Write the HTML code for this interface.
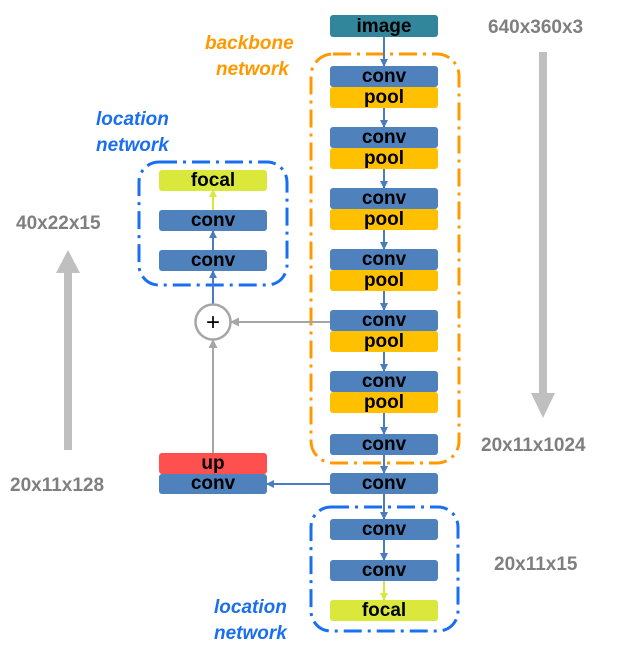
<!DOCTYPE html>
<html><head><meta charset="utf-8"><style>
html,body{margin:0;padding:0;background:#fff;}
svg{display:block;}
text{font-family:"Liberation Sans",Arial,sans-serif;font-weight:bold;}
.b{font-size:19px;fill:#000;text-anchor:middle;}
.g{font-size:19px;fill:#7f7f7f;}
.lb{font-size:19px;fill:#1a6ff0;font-style:italic;}
.lo{font-size:19px;fill:#ff9900;font-style:italic;}
</style></head><body>
<svg width="617" height="650" viewBox="0 0 617 650" xmlns="http://www.w3.org/2000/svg">
<defs>
<marker id="ab" markerWidth="8" markerHeight="8" refX="7" refY="4" orient="auto" markerUnits="userSpaceOnUse"><path d="M0,0 L8,4 L0,8 z" fill="#4a7cc0"/></marker>
<marker id="ag" markerWidth="9" markerHeight="9" refX="8" refY="4.5" orient="auto" markerUnits="userSpaceOnUse"><path d="M0,0 L9,4.5 L0,9 z" fill="#a6a6a6"/></marker>
<marker id="ay" markerWidth="8" markerHeight="8" refX="7" refY="4" orient="auto" markerUnits="userSpaceOnUse"><path d="M0,0 L8,4 L0,8 z" fill="#d9e83a"/></marker>
</defs>

<!-- gray big arrows -->
<rect x="539" y="52" width="8" height="342" fill="#bfbfbf"/>
<path d="M531,393 L555,393 L543,418 z" fill="#bfbfbf"/>
<rect x="64" y="272" width="8" height="178" fill="#bfbfbf"/>
<path d="M56,273 L80,273 L68,250 z" fill="#bfbfbf"/>

<!-- dashed containers -->
<rect x="311" y="54" width="148" height="409" rx="22" fill="none" stroke="#ff9900" stroke-width="3" stroke-dasharray="18,6,3,6"/>
<rect x="139" y="162" width="148" height="123" rx="20" fill="none" stroke="#1a6ff0" stroke-width="3" stroke-dasharray="18,6,3,6"/>
<rect x="311" y="507" width="147" height="124" rx="20" fill="none" stroke="#1a6ff0" stroke-width="3" stroke-dasharray="18,6,3,6"/>

<!-- connectors main column -->
<g stroke="#4a7cc0" stroke-width="2" fill="none" marker-end="url(#ab)">
<line x1="384" y1="37" x2="384" y2="66"/>
<line x1="384" y1="108" x2="384" y2="127"/>
<line x1="384" y1="169" x2="384" y2="188"/>
<line x1="384" y1="230" x2="384" y2="249"/>
<line x1="384" y1="291" x2="384" y2="310"/>
<line x1="384" y1="352" x2="384" y2="371"/>
<line x1="384" y1="413" x2="384" y2="434"/>
<line x1="384" y1="455" x2="384" y2="473"/>
<line x1="384" y1="494" x2="384" y2="519"/>
<line x1="384" y1="540" x2="384" y2="560"/>
<line x1="330" y1="484" x2="267" y2="484"/>
<line x1="213" y1="304" x2="213" y2="271"/>
<line x1="213" y1="250" x2="213" y2="231"/>
</g>
<line x1="384" y1="581" x2="384" y2="600" stroke="#d9e83a" stroke-width="2" marker-end="url(#ay)"/>
<line x1="213" y1="210" x2="213" y2="190" stroke="#d9e83a" stroke-width="2" marker-end="url(#ay)"/>
<g stroke="#a6a6a6" stroke-width="2" fill="none" marker-end="url(#ag)">
<line x1="330" y1="322" x2="231" y2="322"/>
<line x1="213" y1="453" x2="213" y2="340"/>
</g>
<circle cx="213" cy="322" r="17.5" fill="#fff" stroke="#a6a6a6" stroke-width="2.5"/>
<text x="213" y="330" class="b" style="font-weight:normal;font-size:24px">+</text>

<!-- boxes -->
<rect x="330" y="15" width="108" height="22" rx="3" fill="#31869b"/>
<text x="384" y="32" class="b">image</text>

<g>
<rect x="330" y="66" width="108" height="21" rx="3" fill="#4f81bd"/><rect x="330" y="87" width="108" height="21" rx="3" fill="#ffc000"/>
<text x="384" y="82" class="b">conv</text><text x="384" y="103" class="b">pool</text>
<rect x="330" y="127" width="108" height="21" rx="3" fill="#4f81bd"/><rect x="330" y="148" width="108" height="21" rx="3" fill="#ffc000"/>
<text x="384" y="143" class="b">conv</text><text x="384" y="164" class="b">pool</text>
<rect x="330" y="188" width="108" height="21" rx="3" fill="#4f81bd"/><rect x="330" y="209" width="108" height="21" rx="3" fill="#ffc000"/>
<text x="384" y="204" class="b">conv</text><text x="384" y="225" class="b">pool</text>
<rect x="330" y="249" width="108" height="21" rx="3" fill="#4f81bd"/><rect x="330" y="270" width="108" height="21" rx="3" fill="#ffc000"/>
<text x="384" y="265" class="b">conv</text><text x="384" y="286" class="b">pool</text>
<rect x="330" y="310" width="108" height="21" rx="3" fill="#4f81bd"/><rect x="330" y="331" width="108" height="21" rx="3" fill="#ffc000"/>
<text x="384" y="326" class="b">conv</text><text x="384" y="347" class="b">pool</text>
<rect x="330" y="371" width="108" height="21" rx="3" fill="#4f81bd"/><rect x="330" y="392" width="108" height="21" rx="3" fill="#ffc000"/>
<text x="384" y="387" class="b">conv</text><text x="384" y="408" class="b">pool</text>
<rect x="330" y="434" width="108" height="21" rx="3" fill="#4f81bd"/><text x="384" y="450" class="b">conv</text>
<rect x="330" y="473" width="108" height="21" rx="3" fill="#4f81bd"/><text x="384" y="489" class="b">conv</text>
<rect x="330" y="519" width="108" height="21" rx="3" fill="#4f81bd"/><text x="384" y="535" class="b">conv</text>
<rect x="330" y="560" width="108" height="21" rx="3" fill="#4f81bd"/><text x="384" y="576" class="b">conv</text>
<rect x="330" y="600" width="108" height="21" rx="3" fill="#d9e83a"/><text x="384" y="616" class="b">focal</text>

<rect x="159" y="170" width="108" height="21" rx="3" fill="#d9e83a"/><text x="213" y="186" class="b">focal</text>
<rect x="159" y="210" width="108" height="21" rx="3" fill="#4f81bd"/><text x="213" y="226" class="b">conv</text>
<rect x="159" y="250" width="108" height="21" rx="3" fill="#4f81bd"/><text x="213" y="266" class="b">conv</text>
<rect x="159" y="453" width="108" height="21" rx="3" fill="#ff5050"/><text x="213" y="469" class="b">up</text>
<rect x="159" y="474" width="108" height="20" rx="3" fill="#4f81bd"/><text x="213" y="489" class="b">conv</text>
</g>

<!-- labels -->
<text x="205" y="49" class="lo">backbone</text>
<text x="216" y="75" class="lo">network</text>
<text x="96" y="125" class="lb">location</text>
<text x="96" y="151" class="lb">network</text>
<text x="214" y="613" class="lb">location</text>
<text x="214" y="639" class="lb">network</text>
<text x="488" y="33" class="g">640x360x3</text>
<text x="16" y="229" class="g">40x22x15</text>
<text x="10" y="491" class="g">20x11x128</text>
<text x="481" y="451" class="g">20x11x1024</text>
<text x="494" y="570" class="g">20x11x15</text>
</svg>
</body></html>
